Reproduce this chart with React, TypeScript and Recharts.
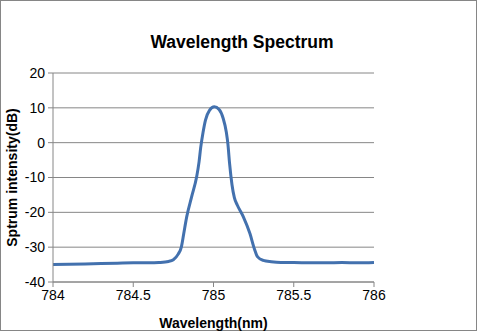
import React from "react";
import {
  CartesianGrid,
  Line,
  LineChart,
  XAxis,
  YAxis,
} from "recharts";

const wavelengths = [
  784.0, 784.1, 784.2, 784.3, 784.4, 784.5, 784.6, 784.66, 784.72, 784.75,
  784.78, 784.8, 784.815, 784.833, 784.864, 784.895, 784.91, 784.92, 784.935,
  784.95, 784.975, 785.005, 785.035, 785.06, 785.08, 785.09, 785.1, 785.115,
  785.13, 785.148, 785.186, 785.227, 785.255, 785.275, 785.31, 785.36, 785.42,
  785.5, 785.6, 785.7, 785.8, 785.9, 786.0,
];

const intensity = [
  -35.0, -34.9, -34.8, -34.7, -34.6, -34.5, -34.5, -34.4, -34.1, -33.6,
  -32.0, -29.9, -26.0, -21.3, -15.5, -9.8, -5.5, -1.5, 3.0,
  6.5, 9.3, 10.3, 9.5, 7.0, 3.0, -0.5, -5.9, -12.0,
  -15.8, -17.9, -21.3, -26.1, -30.5, -32.8, -33.8, -34.2, -34.4,
  -34.4, -34.5, -34.5, -34.4, -34.5, -34.4,
];

const xTicks = [784, 784.5, 785, 785.5, 786];
const yTicks = [-40, -30, -20, -10, 0, 10, 20];

const data = wavelengths.map((wl, i) => ({ wl, db: intensity[i] }));

const font = "'Liberation Sans', Arial, sans-serif";

export default function App() {
  return (
    <div
      style={{
        position: "fixed",
        left: 0,
        top: 0,
        width: 477,
        height: 331,
        background: "#fff",
        fontFamily: font,
      }}
    >
      <div
        style={{
          position: "absolute",
          left: 0,
          top: 0,
          width: 475,
          height: 329,
          border: "1px solid #868686",
        }}
      />
      <div
        style={{
          position: "absolute",
          left: 0,
          width: 484,
          top: 32,
          textAlign: "center",
          fontWeight: "bold",
          fontSize: 17.5,
          color: "#000",
        }}
      >
        Wavelength Spectrum
      </div>
      <LineChart
        width={477}
        height={331}
        data={data}
        margin={{ top: 73, right: 103, bottom: 0, left: 0 }}
        style={{ position: "absolute", left: 0, top: 0 }}
      >
        <CartesianGrid vertical={false} stroke="#868686" />
        <XAxis
          dataKey="wl"
          type="number"
          domain={[784, 786]}
          ticks={xTicks}
          height={49}
          stroke="#868686"
          tickSize={5}
          tickMargin={3}
          tick={{ fill: "#000", fontSize: 14, fontFamily: font }}
          label={{
            value: "Wavelength(nm)",
            position: "insideBottom",
            offset: 3,
            fill: "#000",
            fontSize: 14,
            fontWeight: "bold",
            fontFamily: font,
          }}
        />
        <YAxis
          type="number"
          domain={[-40, 20]}
          ticks={yTicks}
          width={53}
          stroke="#868686"
          tickSize={5}
          tickMargin={3}
          tick={{ fill: "#000", fontSize: 14, fontFamily: font }}
          label={{
            value: "Sptrum  intensity(dB)",
            angle: -90,
            position: "insideLeft",
            offset: 0,
            dx: 12,
            style: { textAnchor: "middle" },
            fill: "#000",
            fontSize: 14,
            fontWeight: "bold",
            fontFamily: font,
          }}
        />
        <Line
          type="monotone"
          dataKey="db"
          stroke="#4371AE"
          strokeWidth={3}
          dot={false}
          isAnimationActive={false}
        />
      </LineChart>
    </div>
  );
}
